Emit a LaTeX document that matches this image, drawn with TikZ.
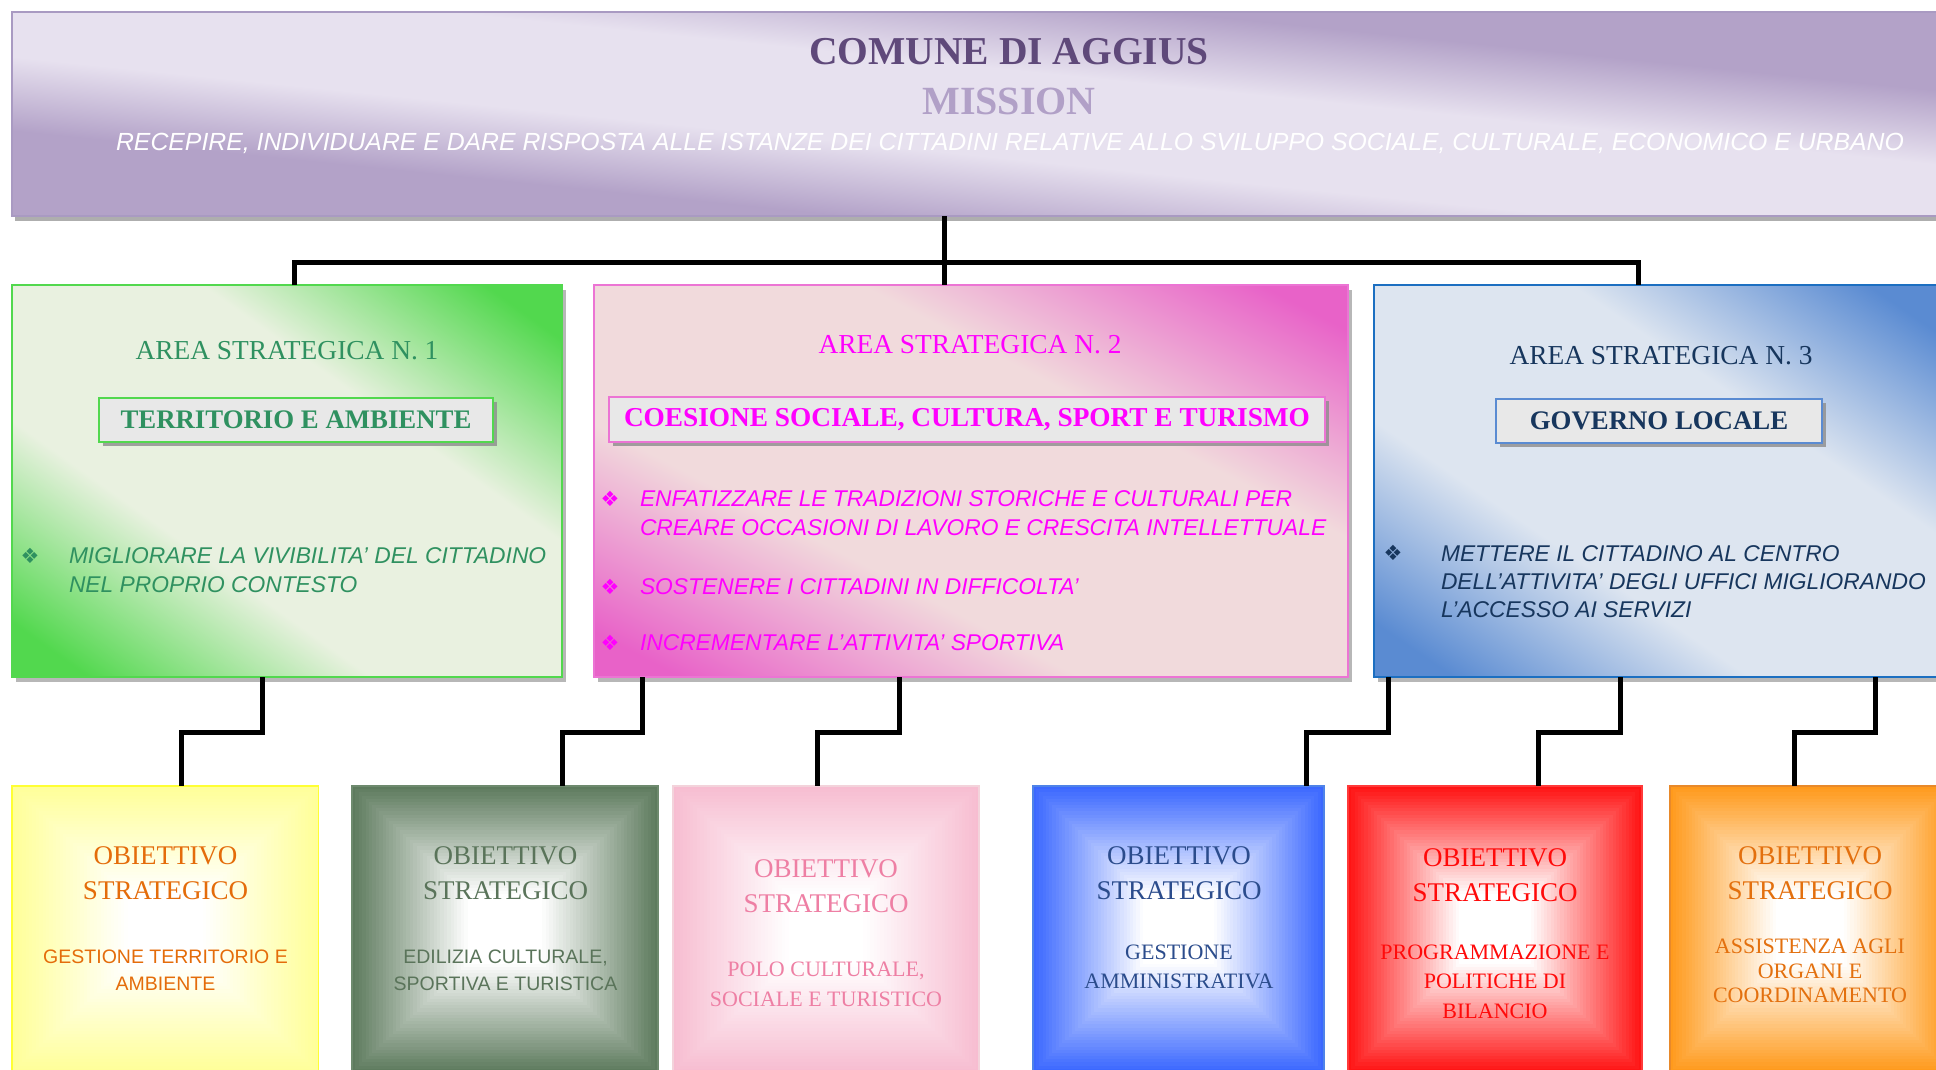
\documentclass[tikz,border=0pt]{standalone}
\usepackage{fontspec}
\setmainfont{Liberation Serif}
\setsansfont{Liberation Sans}
\newfontfamily\dingfont{DejaVu Sans}
\usetikzlibrary{positioning,calc,shadows}

\definecolor{lilac}{HTML}{B3A2C8}
\definecolor{lilaclt}{HTML}{E7E1EF}
\definecolor{lilacln}{HTML}{A99AC2}
\definecolor{titlecol}{HTML}{5F497A}
\definecolor{missioncol}{HTML}{B1A0C7}
\definecolor{grn}{HTML}{52D84E}
\definecolor{grnlt}{HTML}{E9F1E0}
\definecolor{grntx}{HTML}{2F9160}
\definecolor{pnk}{HTML}{E862C8}
\definecolor{pnklt}{HTML}{F1DADC}
\definecolor{pnkln}{HTML}{EC74D4}
\definecolor{pnktx}{HTML}{FF00FF}
\definecolor{blu}{HTML}{5A8BD2}
\definecolor{blult}{HTML}{DDE5F0}
\definecolor{bluln}{HTML}{1C6FC1}
\definecolor{blutx}{HTML}{17365D}
\definecolor{subfill}{HTML}{E8E8E8}
\definecolor{yel}{HTML}{FFFF99}
\definecolor{yelln}{HTML}{FFFF33}
\definecolor{yeltx}{HTML}{E46C0A}
\definecolor{sage}{HTML}{5E7B5E}
\definecolor{sageln}{HTML}{6E8A6E}
\definecolor{sagetx}{HTML}{5A745A}
\definecolor{rosa}{HTML}{F7BDD1}
\definecolor{rosaln}{HTML}{F3D3DB}
\definecolor{rosatx}{HTML}{EE7FA4}
\definecolor{azz}{HTML}{3B68FF}
\definecolor{azzln}{HTML}{4F83E8}
\definecolor{azztx}{HTML}{2B4C8C}
\definecolor{ross}{HTML}{FF1414}
\definecolor{rossln}{HTML}{FF3A3A}
\definecolor{rosstx}{HTML}{FF0A0A}
\definecolor{aran}{HTML}{FF9A1C}
\definecolor{aranln}{HTML}{E8892A}
\definecolor{arantx}{HTML}{E3700E}

% diagonal band
\colorlet{banddk}{black}
\colorlet{bandlt}{white}
\colorlet{objc}{black}
\pgfdeclareverticalshading[banddk,bandlt]{band}{100bp}{color(0bp)=(banddk); color(20bp)=(banddk);
  color(38bp)=(bandlt); color(62bp)=(bandlt); color(80bp)=(banddk); color(100bp)=(banddk)}
\pgfdeclareverticalshading[banddk,bandlt]{bandtop}{100bp}{color(0bp)=(banddk); color(34bp)=(banddk);
  color(44bp)=(bandlt); color(56bp)=(bandlt); color(66bp)=(banddk); color(100bp)=(banddk)}

\tikzset{
  wire/.style={line width=5, black},
  topbox/.style={draw=lilacln, line width=1.5,
    /utils/exec={\colorlet{banddk}{lilac}\colorlet{bandlt}{lilaclt}},
    shade, shading=bandtop, shading angle=-5.84,
    drop shadow={shadow xshift=3, shadow yshift=-5, fill=black!45, opacity=.7}},
  area/.style n args={4}{draw=#3, line width=2,
    /utils/exec={\colorlet{banddk}{#1}\colorlet{bandlt}{#2}},
    shade, shading=band, shading angle=#4,
    drop shadow={shadow xshift=4, shadow yshift=-5, fill=black!40, opacity=.7}},
  areatit/.style={font=\fontsize{27.4}{30}\selectfont},
  subbox/.style={draw=#1, line width=2, fill=subfill,
    font=\bfseries\fontsize{26.8}{30}\selectfont,
    drop shadow={shadow xshift=4, shadow yshift=-4, fill=black!45, opacity=.8}},
  item/.style={font=\sffamily\itshape\fontsize{22.8}{28.3}\selectfont, align=left, anchor=west},
  dot/.style={font=\dingfont\fontsize{21}{21}\selectfont},
  objbox/.style 2 args={draw=#2, line width=1.5, minimum height=286,
    path picture={
      \colorlet{objc}{#1}
      \foreach \k in {0,...,44} {
        \pgfmathsetmacro\fr{1-\k/45}
        \pgfmathsetmacro\pc{100*max(0,min(1,(\fr-0.25)/0.75))}
        \fill[objc!\pc!white]
          ($(path picture bounding box.center)!\fr!(path picture bounding box.north west)$) rectangle
          ($(path picture bounding box.center)!\fr!(path picture bounding box.south east)$);
      }
    }},
  objtit/.style={font=\fontsize{27}{35}\selectfont, align=center},
  objsub/.style={font=\sffamily\fontsize{19.5}{27}\selectfont, align=center},
  objsubrm/.style={font=\fontsize{22}{29.5}\selectfont, align=center}
}

\begin{document}
\begin{tikzpicture}[x=1pt,y=1pt, every node/.style={inner sep=0pt, outer sep=0pt}]

  \useasboundingbox (0,0) rectangle (1936,-1070);
  \clip (0,0) rectangle (1936,-1070);
  \fill[white] (0,0) rectangle (1936,-1070);

  % mission
  \node[topbox, minimum width=1994, minimum height=204] (top) at (1009,-114) {};
  \node[font=\bfseries\fontsize{39.5}{40}\selectfont, text=titlecol] (comune) at (1009,-52) {COMUNE DI AGGIUS};
  \node[font=\bfseries\fontsize{40}{40}\selectfont, text=missioncol] (mission) at (1009,-101) {MISSION};
  \node[font=\sffamily\itshape\fontsize{24.8}{26}\selectfont, text=white] (recepire) at (1010,-143.5)
    {RECEPIRE, INDIVIDUARE E DARE RISPOSTA ALLE ISTANZE DEI CITTADINI RELATIVE ALLO SVILUPPO SOCIALE, CULTURALE, ECONOMICO E URBANO};

  % aree strategiche
  \node[area={grn}{grnlt}{grn}{-35.5}, minimum width=550, minimum height=392] (area1) at (287,-481) {};
  \node[area={pnk}{pnklt}{pnkln}{-27.5}, minimum width=754, minimum height=392] (area2) at (971,-481) {};
  \node[area={blu}{blult}{bluln}{-34.3}, minimum width=574, minimum height=392] (area3) at (1661,-481) {};

  \node[areatit, text=grntx] (tit1) at (287,-351) {AREA STRATEGICA N. 1};
  \node[areatit, text=pnktx] (tit2) at (970,-344.5) {AREA STRATEGICA N. 2};
  \node[areatit, text=blutx] (tit3) at (1661,-355.5) {AREA STRATEGICA N. 3};

  \node[subbox=grn, text=grntx, minimum width=394, minimum height=44.5] (sub1) at (296,-420) {TERRITORIO E AMBIENTE};
  \node[subbox=pnkln, text=pnktx, minimum width=716, minimum height=45, font=\bfseries\fontsize{27.3}{30}\selectfont] (sub2) at (967,-419.5) {COESIONE SOCIALE, CULTURA, SPORT E TURISMO};
  \node[subbox=blu, text=blutx, minimum width=326, minimum height=44] (sub3) at (1659,-421) {GOVERNO LOCALE};

  \node[dot, text=grntx] (dot1) at (30,-556) {❖};
  \node[item, text=grntx] (goal1) at (69,-570) {MIGLIORARE LA VIVIBILITA’ DEL CITTADINO\\NEL PROPRIO CONTESTO};

  \node[dot, text=pnktx] (dot2a) at (610,-499) {❖};
  \node[item, text=pnktx] (goal2a) at (640,-513) {ENFATIZZARE LE TRADIZIONI STORICHE E CULTURALI PER\\CREARE OCCASIONI DI LAVORO E CRESCITA INTELLETTUALE};
  \node[dot, text=pnktx] (dot2b) at (610,-586.5) {❖};
  \node[item, text=pnktx] (goal2b) at (640,-586.5) {SOSTENERE I CITTADINI IN DIFFICOLTA’};
  \node[dot, text=pnktx] (dot2c) at (610,-643) {❖};
  \node[item, text=pnktx] (goal2c) at (640,-643) {INCREMENTARE L’ATTIVITA’ SPORTIVA};

  \node[dot, text=blutx] (dot3) at (1393,-553) {❖};
  \node[item, text=blutx] (goal3) at (1441,-581.5) {METTERE IL CITTADINO AL CENTRO\\DELL’ATTIVITA’ DEGLI UFFICI MIGLIORANDO\\L’ACCESSO AI SERVIZI};

  % obiettivi strategici
  \node[objbox={yel}{yelln}, minimum width=306.5] (obj1) at (165.25,-929) {};
  \node[objbox={sage}{sageln}, minimum width=306] (obj2) at (505,-929) {};
  \node[objbox={rosa}{rosaln}, minimum width=306] (obj3) at (826,-929) {};
  \node[objbox={azz}{azzln}, minimum width=291] (obj4) at (1178.5,-929) {};
  \node[objbox={ross}{rossln}, minimum width=294] (obj5) at (1495,-929) {};
  \node[objbox={aran}{aranln}, minimum width=280] (obj6) at (1810,-929) {};

  \node[objtit, text=yeltx] (ot1) at (165.5,-873.5) {OBIETTIVO\\STRATEGICO};
  \node[objsub, text=yeltx] (os1) at (165.5,-970.5) {GESTIONE TERRITORIO E\\AMBIENTE};
  \node[objtit, text=sagetx] (ot2) at (505.5,-873.5) {OBIETTIVO\\STRATEGICO};
  \node[objsub, text=sagetx] (os2) at (505.5,-970.5) {EDILIZIA CULTURALE,\\SPORTIVA E TURISTICA};
  \node[objtit, text=rosatx] (ot3) at (826,-886) {OBIETTIVO\\STRATEGICO};
  \node[objsubrm, text=rosatx] (os3) at (826,-984.5) {POLO CULTURALE,\\SOCIALE E TURISTICO};
  \node[objtit, text=azztx] (ot4) at (1179,-873.5) {OBIETTIVO\\STRATEGICO};
  \node[objsubrm, text=azztx] (os4) at (1179,-967) {GESTIONE\\AMMINISTRATIVA};
  \node[objtit, text=rosstx] (ot5) at (1495,-875) {OBIETTIVO\\STRATEGICO};
  \node[objsubrm, text=rosstx] (os5) at (1495,-981.5) {PROGRAMMAZIONE E\\POLITICHE DI\\BILANCIO};
  \node[objtit, text=arantx] (ot6) at (1810,-873.5) {OBIETTIVO\\STRATEGICO};
  \node[objsubrm, text=arantx, font=\fontsize{22}{24.5}\selectfont] (os6) at (1810,-971) {ASSISTENZA AGLI\\ORGANI E\\COORDINAMENTO};

  % collegamenti
  \coordinate (hub) at (944,-262);
  \coordinate (j1) at (294,-262);
  \coordinate (j3) at (1638,-262);
  \draw[wire] (top.south -| hub) -- (area2.north -| hub);
  \draw[wire] (area1.north -| j1) |- (j3) -- (area3.north -| j3);

  \draw[wire] ($(area1.south)+(-25,0)$) -- ++(0,-55) -| ($(obj1.north)+(16.25,0)$);
  \draw[wire] ($(area2.south)+(-329,0)$) -- ++(0,-55) -| ($(obj2.north)+(57,0)$);
  \draw[wire] ($(area2.south)+(-72,0)$) -- ++(0,-55) -| ($(obj3.north)+(-9,0)$);
  \draw[wire] ($(area3.south)+(-273,0)$) -- ++(0,-55) -| ($(obj4.north)+(127.5,0)$);
  \draw[wire] ($(area3.south)+(-41,0)$) -- ++(0,-55) -| ($(obj5.north)+(43,0)$);
  \draw[wire] ($(area3.south)+(214.5,0)$) -- ++(0,-55) -| ($(obj6.north)+(-16,0)$);
\end{tikzpicture}
\end{document}
